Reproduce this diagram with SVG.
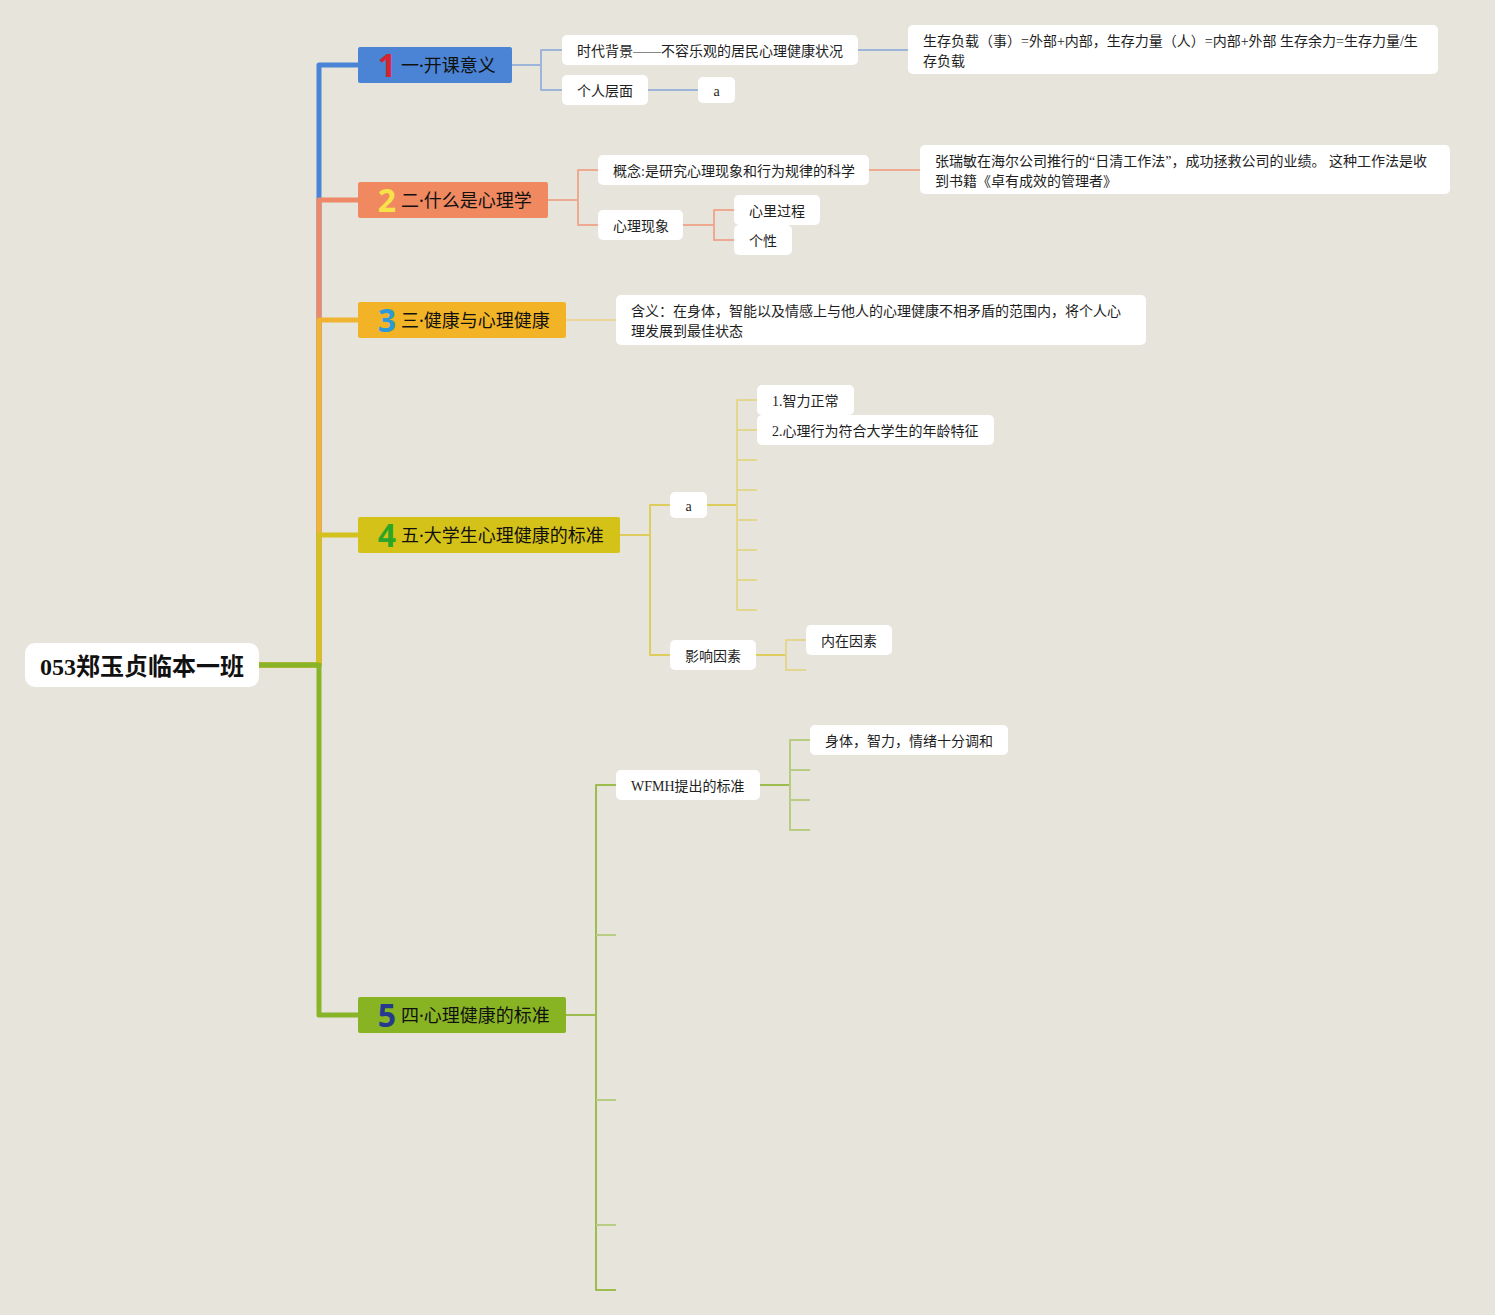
<svg xmlns="http://www.w3.org/2000/svg" width="1495" height="1315" viewBox="0 0 1495 1315">
<style>
.bg{fill:#E7E4DC}
.box{fill:#FFFFFF}
.t{font-family:"Liberation Serif","Noto Sans CJK SC",serif;font-size:14px;fill:#1E1E1E}
.mt{font-family:"Noto Sans","Noto Sans CJK SC",sans-serif;font-size:18px;fill:#111}
.num{font-family:"Noto Sans","Inter",sans-serif;font-size:32px;font-weight:700}
.root{font-family:"Liberation Serif","Noto Sans CJK SC",serif;font-size:24px;font-weight:700;fill:#111}
.c{fill:none;stroke-linejoin:round}
.trunk{stroke-width:5}
.sub{stroke-width:2}
</style>
<rect class="bg" x="0" y="0" width="1495" height="1315"/>
<g id="connectors">
  <path class="c trunk" stroke="#4A84D6" d="M259,665 H319 V65 H358"/>
  <path class="c trunk" stroke="#EE8867" d="M259,665 H319 V200 H358"/>
  <path class="c trunk" stroke="#F0B332" d="M259,665 H319 V320 H358"/>
  <path class="c trunk" stroke="#D5C11E" d="M259,665 H319 V535 H358"/>
  <path class="c trunk" stroke="#88B428" d="M259,665 H319 V1015 H358"/>
  <g stroke="#9DB5DB" class="c sub">
    <path d="M512,65 H541 V50 H562"/>
    <path d="M541,65 V90 H562"/>
    <path d="M858,50 H908"/>
    <path d="M648,90 H698"/>
  </g>
  <g stroke="#EEAA90" class="c sub">
    <path d="M548,200 H578 V170 H598"/>
    <path d="M578,200 V225 H598"/>
    <path d="M869,170 H920"/>
    <path d="M683,225 H714 V210 H734"/>
    <path d="M714,225 V240 H734"/>
  </g>
  <g stroke="#ECD89C" class="c sub">
    <path d="M566,320 H616"/>
  </g>
  <g stroke="#DDCD5E" class="c sub">
    <path d="M620,535 H650 V505 H670"/>
    <path d="M650,535 V655 H670"/>
    <path d="M707,505 H737"/>
    <path d="M756,655 H786"/>
  </g>
  <g stroke="#E3D78F" class="c sub">
    <path d="M737,505 V400 H757"/>
    <path d="M737,430 H757"/>
    <path d="M737,460 H757"/>
    <path d="M737,490 H757"/>
    <path d="M737,505 V610 H757"/>
    <path d="M737,520 H757"/>
    <path d="M737,550 H757"/>
    <path d="M737,580 H757"/>
    <path d="M786,655 V640 H806"/>
    <path d="M786,655 V670 H806"/>
  </g>
  <g stroke="#9DBC4E" class="c sub">
    <path d="M566,1015 H596"/>
    <path d="M596,1015 V785 H616"/>
    <path d="M596,1015 V1290 H616"/>
    <path d="M760,785 H790"/>
  </g>
  <g stroke="#B8CC84" class="c sub">
    <path d="M596,935 H616"/>
    <path d="M596,1100 H616"/>
    <path d="M596,1225 H616"/>
    <path d="M790,785 V740 H810"/>
    <path d="M790,770 H810"/>
    <path d="M790,785 V830 H810"/>
    <path d="M790,800 H810"/>
  </g>
</g>
<g id="root">
  <rect class="box" x="25" y="643" width="234" height="44" rx="10"/>
  <text class="root" x="40" y="675">053郑玉贞临本一班</text>
</g>
<g id="n1">
  <rect x="358" y="47" width="154" height="36" rx="2" fill="#4B84D5"/>
  <text class="num" x="387" y="77" text-anchor="middle" fill="#D8232E">1</text>
  <text class="mt" x="401" y="72">一·开课意义</text>
</g>
<g id="n2">
  <rect x="358" y="182" width="190" height="36" rx="2" fill="#F08860"/>
  <text class="num" x="387" y="212" text-anchor="middle" fill="#F7E24A">2</text>
  <text class="mt" x="401" y="207">二·什么是心理学</text>
</g>
<g id="n3">
  <rect x="358" y="302" width="208" height="36" rx="2" fill="#F2B426"/>
  <text class="num" x="387" y="332" text-anchor="middle" fill="#2B9AD6">3</text>
  <text class="mt" x="401" y="327">三·健康与心理健康</text>
</g>
<g id="n4">
  <rect x="358" y="517" width="262" height="36" rx="2" fill="#D5C218"/>
  <text class="num" x="387" y="547" text-anchor="middle" fill="#2DA526">4</text>
  <text class="mt" x="401" y="542">五·大学生心理健康的标准</text>
</g>
<g id="n5">
  <rect x="358" y="997" width="208" height="36" rx="2" fill="#88B424"/>
  <text class="num" x="387" y="1027" text-anchor="middle" fill="#253A8E">5</text>
  <text class="mt" x="401" y="1022">四·心理健康的标准</text>
</g>
<g id="n1-1">
  <rect class="box" x="562" y="35" width="296" height="30" rx="5"/>
  <text class="t" x="577" y="56">时代背景——不容乐观的居民心理健康状况</text>
</g>
<g id="n1-1-1">
  <rect class="box" x="908" y="25" width="530" height="49" rx="5"/>
  <text class="t" x="923" y="46">生存负载（事）=外部+内部，生存力量（人）=内部+外部 生存余力=生存力量/生</text>
  <text class="t" x="923" y="66">存负载</text>
</g>
<g id="n1-2">
  <rect class="box" x="562" y="75" width="86" height="30" rx="5"/>
  <text class="t" x="577" y="96">个人层面</text>
</g>
<g id="n1-2-1">
  <rect class="box" x="698" y="77" width="37" height="26" rx="5"/>
  <text class="t" x="716.5" y="96" text-anchor="middle">a</text>
</g>
<g id="n2-1">
  <rect class="box" x="598" y="155" width="271" height="30" rx="5"/>
  <text class="t" x="613" y="176">概念:是研究心理现象和行为规律的科学</text>
</g>
<g id="n2-1-1">
  <rect class="box" x="920" y="145" width="530" height="49" rx="5"/>
  <text class="t" x="935" y="166">张瑞敏在海尔公司推行的“日清工作法”，成功拯救公司的业绩。 这种工作法是收</text>
  <text class="t" x="935" y="186">到书籍《卓有成效的管理者》</text>
</g>
<g id="n2-2">
  <rect class="box" x="598" y="210" width="85" height="30" rx="5"/>
  <text class="t" x="613" y="231">心理现象</text>
</g>
<g id="n2-2-1">
  <rect class="box" x="734" y="195" width="86" height="30" rx="5"/>
  <text class="t" x="749" y="216">心里过程</text>
</g>
<g id="n2-2-2">
  <rect class="box" x="734" y="225" width="58" height="30" rx="5"/>
  <text class="t" x="749" y="246">个性</text>
</g>
<g id="n3-1">
  <rect class="box" x="616" y="295" width="530" height="50" rx="5"/>
  <text class="t" x="631" y="316">含义：在身体，智能以及情感上与他人的心理健康不相矛盾的范围内，将个人心</text>
  <text class="t" x="631" y="336">理发展到最佳状态</text>
</g>
<g id="n4-1">
  <rect class="box" x="670" y="492" width="37" height="26" rx="5"/>
  <text class="t" x="688.5" y="511" text-anchor="middle">a</text>
</g>
<g id="n4-1-1">
  <rect class="box" x="757" y="385" width="97" height="30" rx="5"/>
  <text class="t" x="772" y="406">1.智力正常</text>
</g>
<g id="n4-1-2">
  <rect class="box" x="757" y="415" width="237" height="30" rx="5"/>
  <text class="t" x="772" y="436">2.心理行为符合大学生的年龄特征</text>
</g>
<g id="n4-2">
  <rect class="box" x="670" y="640" width="86" height="30" rx="5"/>
  <text class="t" x="685" y="661">影响因素</text>
</g>
<g id="n4-2-1">
  <rect class="box" x="806" y="625" width="86" height="30" rx="5"/>
  <text class="t" x="821" y="646">内在因素</text>
</g>
<g id="n5-1">
  <rect class="box" x="616" y="770" width="144" height="30" rx="5"/>
  <text class="t" x="631" y="791">WFMH提出的标准</text>
</g>
<g id="n5-1-1">
  <rect class="box" x="810" y="725" width="198" height="30" rx="5"/>
  <text class="t" x="825" y="746">身体，智力，情绪十分调和</text>
</g>
</svg>
